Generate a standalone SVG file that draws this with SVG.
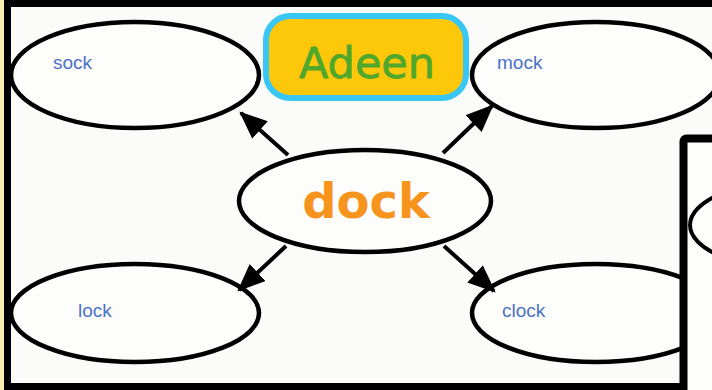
<svg xmlns="http://www.w3.org/2000/svg" width="712" height="390" viewBox="0 0 712 390">
<style>
.node{fill:#fdfdfc;stroke:#000;stroke-width:4.5}
.lbl{font-family:"Liberation Sans",Arial,sans-serif;font-size:19px;fill:#4a72c4}
.conn{stroke:#000;stroke-width:4;fill:none}
</style>
<defs>
<marker id="ah" viewBox="0 0 12 10" refX="11" refY="5" markerWidth="7" markerHeight="5.8" markerUnits="strokeWidth" orient="auto">
<path d="M0,0 L12,5 L0,10 z" fill="#000"/>
</marker>
<clipPath id="p2"><rect x="684" y="139" width="40" height="260"/></clipPath>
</defs>
<rect x="0" y="0" width="712" height="390" fill="#fbfbfa"/>
<rect x="0" y="0" width="5" height="390" fill="#f8eeb0"/>
<g id="sock"><ellipse class="node" cx="135" cy="75" rx="124" ry="53"/><text class="lbl" x="53" y="69">sock</text></g>
<g id="mock"><ellipse class="node" cx="596" cy="75" rx="124" ry="53"/><text class="lbl" x="497" y="69">mock</text></g>
<g id="adeen"><rect x="266" y="16" width="200" height="82" rx="24" fill="#fdc70a" stroke="#38c6f4" stroke-width="6"/><text x="367" y="78" text-anchor="middle" font-family="DejaVu Sans,sans-serif" font-size="43" fill="#4fa82c" stroke="#4fa82c" stroke-width="0.8">Adeen</text></g>
<g id="dock"><ellipse class="node" cx="365" cy="201" rx="126" ry="51"/><text x="366" y="218" text-anchor="middle" font-family="DejaVu Sans,sans-serif" font-weight="bold" font-size="48" fill="#f7941d">dock</text></g>
<g id="lock"><ellipse class="node" cx="135" cy="313" rx="124" ry="49"/><text class="lbl" x="78" y="317">lock</text></g>
<g id="clock"><ellipse class="node" cx="596" cy="313" rx="124" ry="49"/><text class="lbl" x="502" y="317">clock</text></g>
<g id="connectors">
<line class="conn" x1="288" y1="155" x2="241" y2="113" marker-end="url(#ah)"/>
<line class="conn" x1="443" y1="153" x2="492" y2="106" marker-end="url(#ah)"/>
<line class="conn" x1="286" y1="246" x2="239" y2="290" marker-end="url(#ah)"/>
<line class="conn" x1="444" y1="246" x2="494" y2="291" marker-end="url(#ah)"/>
</g>
<rect x="7.5" y="3.5" width="760" height="383" fill="none" stroke="#000" stroke-width="7"/>
<g id="panel2">
<rect x="683.5" y="138.5" width="100" height="300" rx="3" fill="#fdfdfc" stroke="#000" stroke-width="8"/>
<ellipse cx="800" cy="225" rx="110" ry="45" fill="none" stroke="#000" stroke-width="4" clip-path="url(#p2)"/>
</g>
</svg>
